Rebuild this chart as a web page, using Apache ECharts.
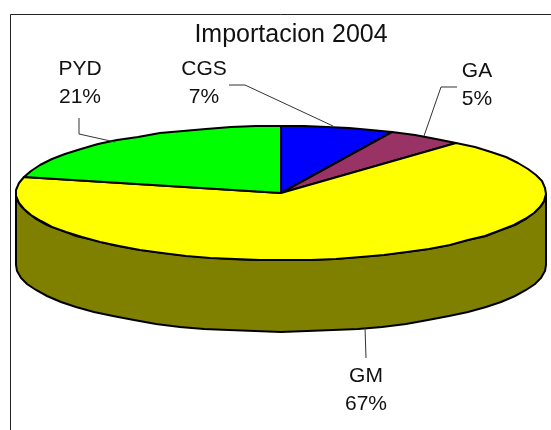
<!DOCTYPE html>
<html>
<head>
<meta charset="utf-8">
<style>html,body{margin:0;padding:0;background:#fff}#c{width:551px;height:430px}</style>
<script src="https://cdn.jsdelivr.net/npm/echarts@6/dist/echarts.min.js"></script>
</head>
<body>
<div id="c"></div>
<script>
const chartTitle = 'Importacion 2004';
const categories = ['CGS', 'GA', 'GM', 'PYD'];
const shares = [6.9, 4.6, 67.3, 21.2];
const sliceColors = ['#0000FF', '#993366', '#FFFF00', '#00FF00'];
const wallColor = '#808000';
// leader line points and label centres, as px offsets from each slice's rim anchor
const leaderStarts = [[-5, -2], [-2, -1], [4, -2], [-2, 2]];
const leaderBends = [
  [[-93, -43], [-109, -43]],
  [[15, -50], [31, -50]],
  [[5, 29]],
  [[-38, -6], [-38, -22]]
];
const labelOffsets = [[-134, -45], [51, -52], [5, 61], [-37, -57]];

const FONT = '"Liberation Sans", Arial, sans-serif';
const DEPTH = 1.07;           // wall height in y-axis units
const total = shares.reduce((a, b) => a + b, 0);
const STEP = 2 * Math.PI / 64; // coarse facets, as in the reference's outline

function rim(api, theta, drop) {
  const p = api.coord([Math.sin(theta), Math.cos(theta) - (drop || 0)]);
  return [Math.round(p[0]), Math.round(p[1])];
}
function arc(api, from, to, drop) {
  const pts = [];
  const n = Math.max(1, Math.ceil((to - from) / STEP));
  for (let i = 0; i <= n; i++) pts.push(rim(api, from + (to - from) * i / n, drop));
  return pts;
}
const bounds = [];
shares.reduce((acc, v) => {
  bounds.push([acc / total * 2 * Math.PI, (acc + v) / total * 2 * Math.PI]);
  return acc + v;
}, 0);

function centerPoint(api) {
  const c = api.coord([0, 0]);
  return [Math.round(c[0]), Math.round(c[1])];
}
function renderWall(params, api) {
  // visible front of the cylinder: from rightmost rim round the bottom to leftmost rim
  const top = arc(api, Math.PI / 2, 3 * Math.PI / 2, 0);
  const bottom = arc(api, Math.PI / 2, 3 * Math.PI / 2, DEPTH).reverse();
  return {
    type: 'polygon',
    shape: { points: top.concat(bottom) },
    style: { fill: wallColor, stroke: '#000', lineWidth: 2 }
  };
}
function renderSlice(params, api) {
  const i = params.dataIndex;
  const [a, b] = bounds[i];
  return {
    type: 'polygon',
    shape: { points: [centerPoint(api)].concat(arc(api, a, b, 0)) },
    style: { fill: sliceColors[i], stroke: '#000', lineWidth: 2, lineJoin: 'round' }
  };
}
function renderLabel(params, api) {
  const i = params.dataIndex;
  const mid = (bounds[i][0] + bounds[i][1]) / 2;
  const front = Math.cos(mid) < 0;
  const anchor = rim(api, mid, front ? DEPTH : 0);
  const line = [leaderStarts[i]].concat(leaderBends[i]).map(o => [anchor[0] + o[0], anchor[1] + o[1]]);
  return {
    type: 'group',
    children: [
      { type: 'polyline', shape: { points: line }, style: { fill: null, stroke: '#333', lineWidth: 1 } },
      {
        type: 'text',
        x: anchor[0] + labelOffsets[i][0],
        y: anchor[1] + labelOffsets[i][1],
        style: {
          text: categories[i] + '\n' + Math.round(shares[i]) + '%',
          font: '21px ' + FONT,
          lineHeight: 28,
          fill: '#111',
          align: 'center',
          verticalAlign: 'middle'
        }
      }
    ]
  };
}
const chart = echarts.init(document.getElementById('c'), null, { renderer: 'canvas' });
const rows = categories.map((c, i) => [i, shares[i]]);
chart.setOption({
  animation: false,
  backgroundColor: '#fff',
  title: {
    text: chartTitle, left: 286, top: 18, textAlign: 'center',
    textStyle: { fontFamily: FONT, fontSize: 25, fontWeight: 'normal', color: '#111' }
  },
  graphic: [{
    type: 'polyline',
    shape: { points: [[10.5, 430], [10.5, 14.5], [551, 14.5]] },
    style: { fill: null, stroke: '#222', lineWidth: 1 },
    silent: true
  }],
  grid: { left: 16, width: 530, top: 126, height: 134 },
  xAxis: { type: 'value', min: -1, max: 1, show: false },
  yAxis: { type: 'value', min: -1, max: 1, show: false },
  series: [
    { type: 'custom', clip: false, silent: true, data: [[0, 0]], renderItem: renderWall },
    { type: 'custom', clip: false, silent: true, data: rows, renderItem: renderSlice },
    { type: 'custom', clip: false, silent: true, data: rows, renderItem: renderLabel }
  ]
});
</script>
</body>
</html>
